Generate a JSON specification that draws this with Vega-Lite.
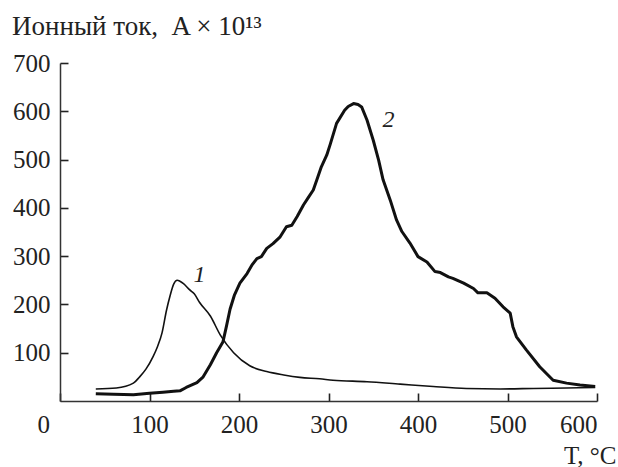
{
  "$schema": "https://vega.github.io/schema/vega-lite/v6.json",
  "width": 537,
  "height": 338,
  "autosize": "none",
  "padding": {"left": 60, "top": 63, "right": 21, "bottom": 66},
  "background": "white",
  "title": {
    "text": "Ионный ток, \u00a0A × 10¹³",
    "anchor": "start",
    "frame": "group",
    "dx": -48,
    "offset": 10,
    "font": "Liberation Serif",
    "fontSize": 27,
    "fontWeight": "normal",
    "color": "#222"
  },
  "config": {
    "view": {"stroke": null},
    "axis": {
      "labelFont": "Liberation Serif",
      "labelFontSize": 25,
      "labelColor": "#222",
      "titleFont": "Liberation Serif",
      "titleFontSize": 25,
      "titleFontWeight": "normal",
      "titleColor": "#222",
      "domainColor": "#333",
      "domainWidth": 1.5,
      "tickColor": "#222",
      "tickWidth": 1.6,
      "tickSize": -8,
      "grid": false
    }
  },
  "datasets": {
    "c1": [
      {"t": 40, "i": 25}, {"t": 63, "i": 27}, {"t": 82, "i": 37}, {"t": 89, "i": 50},
      {"t": 96, "i": 66}, {"t": 104, "i": 92}, {"t": 109, "i": 113}, {"t": 114, "i": 141},
      {"t": 119, "i": 188}, {"t": 123, "i": 218}, {"t": 127, "i": 242}, {"t": 131, "i": 250},
      {"t": 134, "i": 248}, {"t": 138, "i": 243}, {"t": 145, "i": 230}, {"t": 150, "i": 222},
      {"t": 156, "i": 204}, {"t": 168, "i": 176}, {"t": 179, "i": 137}, {"t": 194, "i": 100},
      {"t": 212, "i": 73}, {"t": 231, "i": 61}, {"t": 250, "i": 54}, {"t": 268, "i": 49},
      {"t": 290, "i": 46}, {"t": 305, "i": 43}, {"t": 343, "i": 40}, {"t": 380, "i": 35},
      {"t": 417, "i": 30}, {"t": 454, "i": 26}, {"t": 492, "i": 25}, {"t": 529, "i": 26},
      {"t": 566, "i": 27}, {"t": 598, "i": 28}
    ],
    "c2": [
      {"t": 40, "i": 15}, {"t": 60, "i": 14}, {"t": 82, "i": 13}, {"t": 100, "i": 16},
      {"t": 115, "i": 18}, {"t": 127, "i": 20}, {"t": 134, "i": 21}, {"t": 141, "i": 28},
      {"t": 153, "i": 38}, {"t": 160, "i": 50}, {"t": 168, "i": 75}, {"t": 175, "i": 100},
      {"t": 182, "i": 122}, {"t": 186, "i": 155}, {"t": 190, "i": 190}, {"t": 195, "i": 220},
      {"t": 201, "i": 244}, {"t": 209, "i": 264}, {"t": 215, "i": 283}, {"t": 220, "i": 295},
      {"t": 225, "i": 299}, {"t": 231, "i": 316}, {"t": 238, "i": 326}, {"t": 246, "i": 340},
      {"t": 253, "i": 361}, {"t": 259, "i": 364}, {"t": 265, "i": 382}, {"t": 272, "i": 406},
      {"t": 277, "i": 420}, {"t": 283, "i": 437}, {"t": 287, "i": 458}, {"t": 292, "i": 485},
      {"t": 298, "i": 509}, {"t": 302, "i": 532}, {"t": 309, "i": 575}, {"t": 318, "i": 602},
      {"t": 322, "i": 610}, {"t": 328, "i": 616}, {"t": 333, "i": 614}, {"t": 337, "i": 609},
      {"t": 343, "i": 582}, {"t": 350, "i": 540}, {"t": 356, "i": 499}, {"t": 361, "i": 458},
      {"t": 369, "i": 416}, {"t": 376, "i": 375}, {"t": 382, "i": 351}, {"t": 391, "i": 327},
      {"t": 400, "i": 299}, {"t": 410, "i": 288}, {"t": 419, "i": 268}, {"t": 425, "i": 266},
      {"t": 434, "i": 257}, {"t": 439, "i": 254}, {"t": 451, "i": 244}, {"t": 462, "i": 233},
      {"t": 467, "i": 224}, {"t": 477, "i": 224}, {"t": 486, "i": 213}, {"t": 495, "i": 195},
      {"t": 503, "i": 182}, {"t": 506, "i": 154}, {"t": 510, "i": 133}, {"t": 521, "i": 106},
      {"t": 536, "i": 71}, {"t": 551, "i": 43}, {"t": 566, "i": 37}, {"t": 581, "i": 33},
      {"t": 598, "i": 30}
    ],
    "labels": [
      {"t": 156, "i": 261, "label": "1"},
      {"t": 367, "i": 582, "label": "2"}
    ]
  },
  "layer": [
    {
      "data": {"name": "c1"},
      "mark": {"type": "line", "color": "#111", "strokeWidth": 1.6, "interpolate": "monotone"},
      "encoding": {
        "x": {
          "field": "t", "type": "quantitative",
          "scale": {"domain": [0, 600], "nice": false},
          "axis": {
            "values": [0, 100, 200, 300, 400, 500, 600],
            "tickSize": -8,
            "labelPadding": 19,
            "labelOffset": {"condition": {"test": "datum.value === 0", "value": -23}, "value": 0},
            "title": "T, °C",
            "titleAnchor": "end",
            "titleAlign": "right",
            "titlePadding": 6,
            "titleX": 556
          }
        },
        "y": {
          "field": "i", "type": "quantitative",
          "scale": {"domain": [0, 700], "nice": false},
          "axis": {
            "values": [100, 200, 300, 400, 500, 600, 700],
            "tickSize": -8,
            "labelPadding": 18,
            "title": null
          }
        }
      }
    },
    {
      "data": {"name": "c2"},
      "mark": {"type": "line", "color": "#111", "strokeWidth": 3, "interpolate": "linear", "strokeJoin": "round"},
      "encoding": {
        "x": {"field": "t", "type": "quantitative"},
        "y": {"field": "i", "type": "quantitative"}
      }
    },
    {
      "data": {"name": "labels"},
      "mark": {"type": "text", "font": "Liberation Serif", "fontSize": 24, "fontStyle": "italic", "color": "#222"},
      "encoding": {
        "x": {"field": "t", "type": "quantitative"},
        "y": {"field": "i", "type": "quantitative"},
        "text": {"field": "label"}
      }
    }
  ]
}
